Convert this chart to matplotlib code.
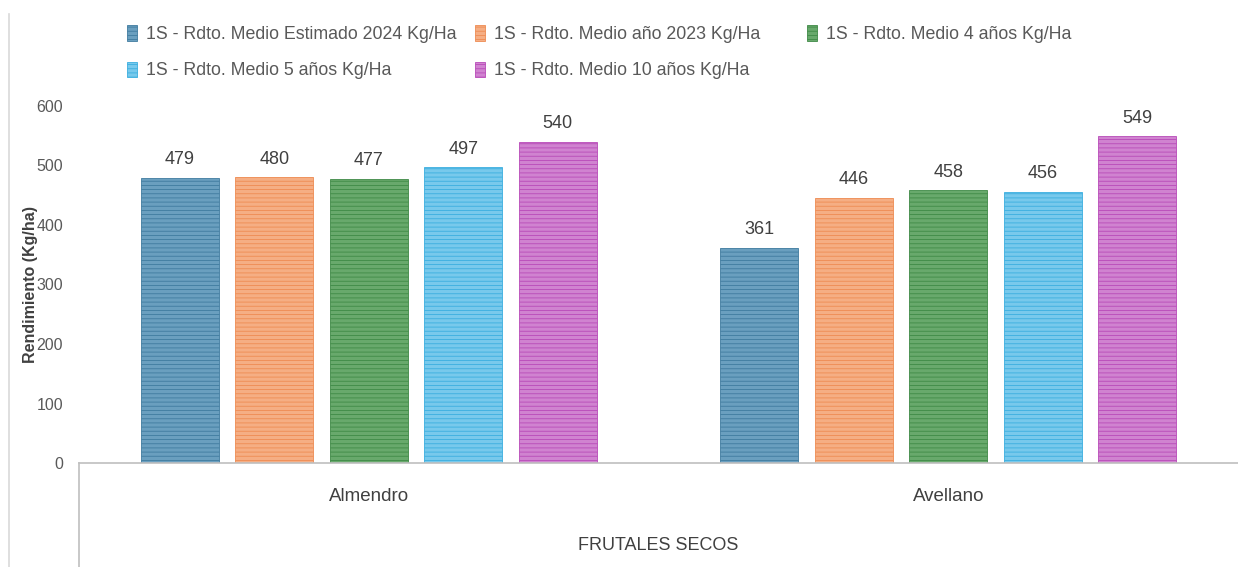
"""Rendimiento medio de frutales secos (Almendro, Avellano)."""

import matplotlib
matplotlib.use("Agg")
import matplotlib.pyplot as plt
from matplotlib.lines import Line2D
import numpy as np

categories = ["Almendro", "Avellano"]
series_names = [
    "1S - Rdto. Medio Estimado 2024 Kg/Ha",
    "1S - Rdto. Medio año 2023 Kg/Ha",
    "1S - Rdto. Medio 4 años Kg/Ha",
    "1S - Rdto. Medio 5 años Kg/Ha",
    "1S - Rdto. Medio 10 años Kg/Ha",
]
est_2024 = [479, 361]
año_2023 = [480, 446]
medio_4 = [477, 458]
medio_5 = [497, 456]
medio_10 = [540, 549]
yticks = [0, 100, 200, 300, 400, 500, 600]

face_colors = ["#6a9fbf", "#f5ae84", "#68a96c", "#78c9ec", "#d083d0"]
line_colors = ["#3f7b9f", "#ee8b52", "#3f8a46", "#3aaedf", "#b84ab8"]

plt.rcParams["font.family"] = ["Liberation Sans", "DejaVu Sans"]
plt.rcParams["hatch.linewidth"] = 0.6

W, H = 1238, 567
fig = plt.figure(figsize=(W / 100, H / 100), dpi=100)
ax = fig.add_axes([79 / W, (H - 463) / H, (W - 79) / W, 357 / H])

x = np.arange(len(categories))
step = 0.163
width = 0.1346
all_series = [est_2024, año_2023, medio_4, medio_5, medio_10]
handles = []
for i, (name, vals) in enumerate(zip(series_names, all_series)):
    offs = (i - 2) * step
    bars = ax.bar(
        x + offs, vals, width,
        color=face_colors[i],
        edgecolor=line_colors[i],
        hatch="----",
        linewidth=0.6,
        label=name,
    )
    handles.append(bars)
    for xi, v in zip(x + offs, vals):
        ax.annotate(
            f"{v}", (xi, v), xytext=(0, 7), textcoords="offset points",
            ha="center", va="bottom", fontsize=13, color="#404040",
        )

ax.set_xlim(-0.5, 1.5)
ax.set_ylim(0, 600)
ax.set_yticks(yticks)
ax.tick_params(axis="y", length=0, labelsize=11.5, labelcolor="#595959", pad=11.5)
ax.set_xticks([])
for s in ["top", "right", "left"]:
    ax.spines[s].set_visible(False)
ax.spines["bottom"].set_color("#bfbfbf")
ax.spines["bottom"].set_linewidth(1.2)

ax.set_ylabel("Rendimiento (Kg/ha)", fontsize=11.5, fontweight="bold",
              color="#404040", labelpad=-1)

for xi, cat in zip(x, categories):
    ax.text(xi, -0.095, cat, transform=ax.get_xaxis_transform(),
            ha="center", va="center", fontsize=13.5, color="#404040")
fig.text((79 + W) / 2 / W, 1 - 545 / H, "FRUTALES SECOS",
         ha="center", va="center", fontsize=13, color="#404040")

# separator lines below the axis
fig.add_artist(Line2D([79 / W, 79 / W], [0, (H - 463) / H],
                      color="#bfbfbf", linewidth=1.2))
fig.add_artist(Line2D([9 / W, 9 / W], [0, 1 - 14 / H],
                      color="#d9d9d9", linewidth=1.2))

# legend laid out row by row, one legend per column
columns = [[0, 3], [1, 4], [2]]
col_x = [113, 461, 793]
for idxs, cx in zip(columns, col_x):
    fig.legend(
        [handles[i] for i in idxs], [series_names[i] for i in idxs],
        loc="upper left", bbox_to_anchor=(cx / W, 1 - 11 / H),
        frameon=False, fontsize=12.8, handlelength=0.55, handleheight=0.95,
        handletextpad=0.5, labelspacing=1.05, borderpad=0.3,
        labelcolor="#595959",
    )

fig.savefig("out.png", dpi=100)
